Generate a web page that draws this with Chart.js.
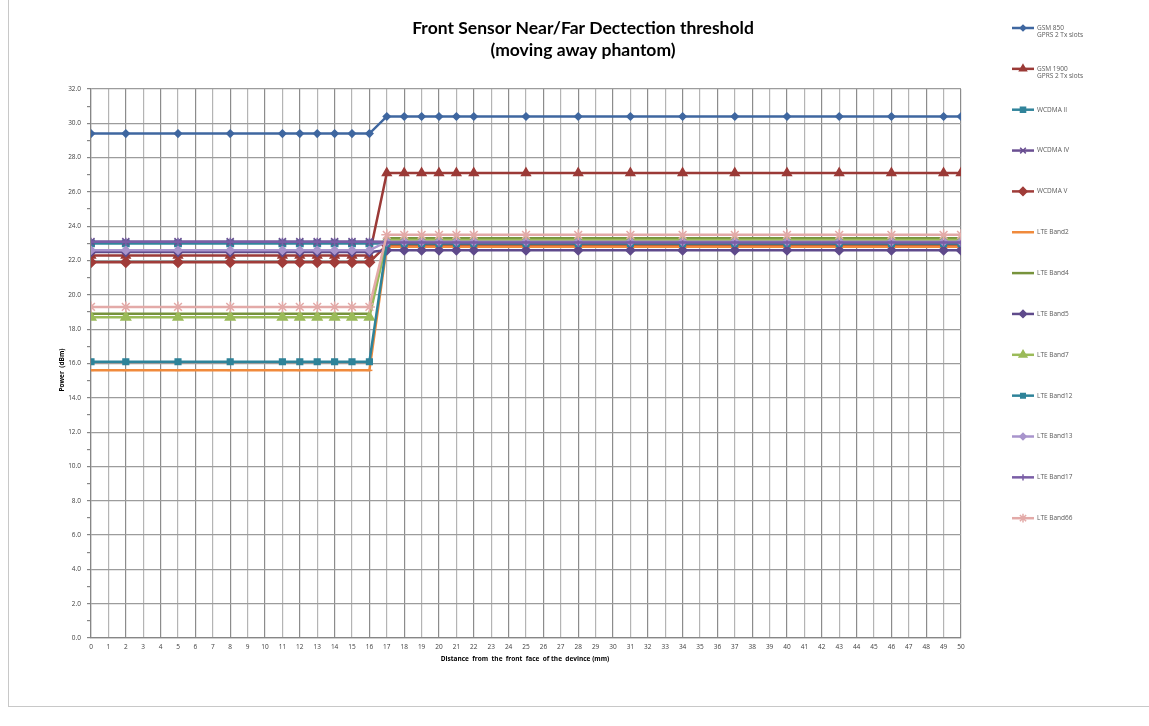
<!DOCTYPE html>
<html>
<head>
<meta charset="utf-8">
<script src="https://cdn.jsdelivr.net/npm/chart.js@4.4.1/dist/chart.umd.min.js"></script>
<style>
  body { margin: 0; background: #fff; }
  #frame { position: absolute; left: 8px; top: -1px; width: 1145px; height: 706px; border: 1px solid #c8c8c8; }
  canvas { position: absolute; left: 0; top: 0; }
</style>
</head>
<body>
<div id="frame"></div>
<canvas id="chart" width="1149" height="726"></canvas>
<script>
// distance (mm) of each measured point
const distances = [0, 2, 5, 8, 11, 12, 13, 14, 15, 16, 17, 18, 19, 20, 21, 22, 25, 28, 31, 34, 37, 40, 43, 46, 49, 50];

const gsm850   = [29.4, 29.4, 29.4, 29.4, 29.4, 29.4, 29.4, 29.4, 29.4, 29.4, 30.4, 30.4, 30.4, 30.4, 30.4, 30.4, 30.4, 30.4, 30.4, 30.4, 30.4, 30.4, 30.4, 30.4, 30.4, 30.4];
const gsm1900  = [22.3, 22.3, 22.3, 22.3, 22.3, 22.3, 22.3, 22.3, 22.3, 22.3, 27.1, 27.1, 27.1, 27.1, 27.1, 27.1, 27.1, 27.1, 27.1, 27.1, 27.1, 27.1, 27.1, 27.1, 27.1, 27.1];
const wcdma2   = [23.0, 23.0, 23.0, 23.0, 23.0, 23.0, 23.0, 23.0, 23.0, 23.0, 23.0, 23.0, 23.0, 23.0, 23.0, 23.0, 23.0, 23.0, 23.0, 23.0, 23.0, 23.0, 23.0, 23.0, 23.0, 23.0];
const wcdma4   = [23.1, 23.1, 23.1, 23.1, 23.1, 23.1, 23.1, 23.1, 23.1, 23.1, 23.1, 23.1, 23.1, 23.1, 23.1, 23.1, 23.1, 23.1, 23.1, 23.1, 23.1, 23.1, 23.1, 23.1, 23.1, 23.1];
const wcdma5   = [21.9, 21.9, 21.9, 21.9, 21.9, 21.9, 21.9, 21.9, 21.9, 21.9, 22.9, 22.9, 22.9, 22.9, 22.9, 22.9, 22.9, 22.9, 22.9, 22.9, 22.9, 22.9, 22.9, 22.9, 22.9, 22.9];
const lteB2    = [15.6, 15.6, 15.6, 15.6, 15.6, 15.6, 15.6, 15.6, 15.6, 15.6, 22.8, 22.8, 22.8, 22.8, 22.8, 22.8, 22.8, 22.8, 22.8, 22.8, 22.8, 22.8, 22.8, 22.8, 22.8, 22.8];
const lteB4    = [18.9, 18.9, 18.9, 18.9, 18.9, 18.9, 18.9, 18.9, 18.9, 18.9, 23.3, 23.3, 23.3, 23.3, 23.3, 23.3, 23.3, 23.3, 23.3, 23.3, 23.3, 23.3, 23.3, 23.3, 23.3, 23.3];
const lteB5    = [22.5, 22.5, 22.5, 22.5, 22.5, 22.5, 22.5, 22.5, 22.5, 22.5, 22.6, 22.6, 22.6, 22.6, 22.6, 22.6, 22.6, 22.6, 22.6, 22.6, 22.6, 22.6, 22.6, 22.6, 22.6, 22.6];
const lteB7    = [18.7, 18.7, 18.7, 18.7, 18.7, 18.7, 18.7, 18.7, 18.7, 18.7, 23.2, 23.2, 23.2, 23.2, 23.2, 23.2, 23.2, 23.2, 23.2, 23.2, 23.2, 23.2, 23.2, 23.2, 23.2, 23.2];
const lteB12   = [16.1, 16.1, 16.1, 16.1, 16.1, 16.1, 16.1, 16.1, 16.1, 16.1, 23.0, 23.0, 23.0, 23.0, 23.0, 23.0, 23.0, 23.0, 23.0, 23.0, 23.0, 23.0, 23.0, 23.0, 23.0, 23.0];
const lteB13   = [22.6, 22.6, 22.6, 22.6, 22.6, 22.6, 22.6, 22.6, 22.6, 22.6, 23.1, 23.1, 23.1, 23.1, 23.1, 23.1, 23.1, 23.1, 23.1, 23.1, 23.1, 23.1, 23.1, 23.1, 23.1, 23.1];
const lteB17   = [23.1, 23.1, 23.1, 23.1, 23.1, 23.1, 23.1, 23.1, 23.1, 23.1, 23.05, 23.05, 23.05, 23.05, 23.05, 23.05, 23.05, 23.05, 23.05, 23.05, 23.05, 23.05, 23.05, 23.05, 23.05, 23.05];
const lteB66   = [19.3, 19.3, 19.3, 19.3, 19.3, 19.3, 19.3, 19.3, 19.3, 19.3, 23.5, 23.5, 23.5, 23.5, 23.5, 23.5, 23.5, 23.5, 23.5, 23.5, 23.5, 23.5, 23.5, 23.5, 23.5, 23.5];

const seriesNames = [
  ['GSM 850', 'GPRS 2 Tx slots'], ['GSM 1900', 'GPRS 2 Tx slots'], ['WCDMA II'], ['WCDMA IV'], ['WCDMA V'],
  ['LTE Band2'], ['LTE Band4'], ['LTE Band5'], ['LTE Band7'], ['LTE Band12'], ['LTE Band13'], ['LTE Band17'], ['LTE Band66']
];
const seriesValues = [gsm850, gsm1900, wcdma2, wcdma4, wcdma5, lteB2, lteB4, lteB5, lteB7, lteB12, lteB13, lteB17, lteB66];
const seriesColors = ['#3f67a0', '#9b3a37', '#31849b', '#6a4f92', '#a03c39', '#f08a3c', '#77933c', '#5f4a8b', '#9bbb59', '#2e8399', '#a894cc', '#7a5ea6', '#e3aaa8'];
const seriesMarkers = ['rectRot', 'triangle', 'rect', 'crossRot', 'rectRot', 'line', 'line', 'rectRot', 'triangle', 'rect', 'rectRot', 'cross', 'star'];
const markerSizes = [3.5, 5, 4.5, 5, 5, 3, 0, 4.5, 5.5, 4, 4, 4, 5.5];

const datasets = seriesValues.map((vals, i) => ({
  label: seriesNames[i].join(' '),
  data: vals.map((v, j) => ({ x: distances[j], y: v })),
  borderColor: seriesColors[i],
  backgroundColor: seriesColors[i],
  borderWidth: 2.5,
  pointStyle: seriesMarkers[i],
  pointRadius: markerSizes[i],
  pointBorderWidth: 1.5,
  tension: 0,
  order: -i
}));

const textPlugin = {
  id: 'texts',
  afterDraw(chart) {
    const ctx = chart.ctx;
    ctx.save();
    ctx.fillStyle = '#000';
    ctx.textAlign = 'center';
    ctx.textBaseline = 'middle';
    ctx.font = 'bold 17.5px Lato';
    ctx.fillText('Front Sensor Near/Far Dectection threshold', 583, 28);
    ctx.fillText('(moving away phantom)', 583, 50);

    ctx.font = 'bold 6.5px "Open Sans"';
    ctx.fillText('Distance  from  the  front  face  of the  devince (mm)', 525, 659);
    ctx.translate(62, 370);
    ctx.rotate(-Math.PI / 2);
    ctx.fillText('Power  (dBm)', 0, 0);
    ctx.restore();

    // legend on the right
    ctx.save();
    seriesNames.forEach((names, i) => {
      const y = 28 + i * 40.85;
      ctx.strokeStyle = seriesColors[i];
      ctx.lineWidth = 2.5;
      ctx.beginPath();
      ctx.moveTo(1012, y);
      ctx.lineTo(1034, y);
      ctx.stroke();
      ctx.fillStyle = seriesColors[i];
      ctx.lineWidth = 1.5;
      if (markerSizes[i] > 0) {
        Chart.helpers.drawPoint(ctx, { pointStyle: seriesMarkers[i], radius: markerSizes[i] * 0.8, rotation: 0, borderWidth: 1.5 }, 1023, y);
      }
      ctx.fillStyle = '#595959';
      ctx.font = '6.5px "Open Sans"';
      ctx.textAlign = 'left';
      ctx.textBaseline = 'middle';
      names.forEach((t, k) => ctx.fillText(t, 1037, y + k * 7.5));
    });
    ctx.restore();
  }
};

new Chart(document.getElementById('chart').getContext('2d'), {
  type: 'line',
  data: { datasets },
  options: {
    responsive: false,
    animation: false,
    layout: { padding: { left: 0, top: 89, right: 188, bottom: 58 } },
    plugins: { legend: { display: false }, title: { display: false }, tooltip: { enabled: false } },
    scales: {
      x: {
        type: 'linear',
        min: 0,
        max: 50,
        afterFit: s => { s.height = 30; },
        ticks: { stepSize: 1, autoSkip: false, maxRotation: 0, padding: 5, color: '#404040', font: { family: 'Open Sans', size: 6.5 } },
        grid: { color: c => (c.tick && c.tick.value % 2 === 0 ? '#8c8c8c' : '#b4b4b4'), lineWidth: 1.2, drawTicks: false },
        border: { color: '#868686', width: 1.2 }
      },
      y: {
        min: 0,
        max: 32,
        afterFit: s => { s.width = 91; },
        ticks: {
          stepSize: 1,
          autoSkip: false,
          padding: 6,
          color: '#404040',
          font: { family: 'Open Sans', size: 6.5 },
          callback: v => (v % 2 === 0 ? v.toFixed(1) : '')
        },
        grid: {
          color: c => (c.tick && c.tick.value % 2 === 0 ? '#9c9c9c' : 'transparent'),
          tickColor: '#868686',
          tickLength: 4,
          lineWidth: 1.2
        },
        border: { color: '#868686', width: 1.2 }
      }
    }
  },
  plugins: [textPlugin]
});
</script>
</body>
</html>
